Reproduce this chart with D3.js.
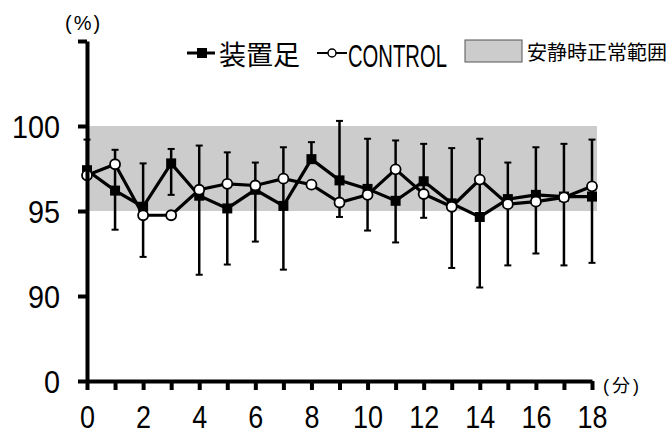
<!DOCTYPE html>
<html>
<head>
<meta charset="utf-8">
<script src="https://cdn.jsdelivr.net/npm/d3@7"></script>
<style>
  body { margin: 0; background: #fff; }
  svg { display: block; }
</style>
</head>
<body>
<script>
// minutes
var minutes = [0, 1, 2, 3, 4, 5, 6, 7, 8, 9, 10, 11, 12, 13, 14, 15, 16, 17, 18];

// 装置足 (filled squares)
var deviceFoot = [97.4, 96.2, 95.25, 97.8, 95.9, 95.15, 96.25, 95.3, 98.05, 96.8, 96.3, 95.6, 96.75, 95.45, 94.65, 95.7, 95.95, 95.85, 95.85];
// CONTROL (open circles)
var control = [97.1, 97.75, 94.75, 94.75, 96.25, 96.6, 96.5, 96.9, 96.55, 95.5, 95.95, 97.45, 96.0, 95.25, 96.85, 95.4, 95.55, 95.8, 96.45];

// error bar ends at each minute
var errTop = [99.2, 98.6, 97.8, 98.65, 98.85, 98.45, 97.85, 98.75, 99.05, 100.3, 99.25, 99.15, 98.95, 98.7, 99.25, 97.85, 98.75, 98.95, 99.2];
var errBottom = [97.2, 93.9, 92.3, 95.95, 91.25, 91.85, 93.2, 91.55, 97.9, 94.65, 93.85, 93.15, 94.6, 91.65, 90.5, 91.8, 92.5, 91.8, 91.95];

// normal resting range
var normalRange = [95, 100];

// y ticks (axis is broken: bottom tick stands for 0)
var yTicks = [85, 90, 95, 100, 105];
var yTickLabels = ["0", "90", "95", "100", ""];
var xTickLabels = ["0", "", "2", "", "4", "", "6", "", "8", "", "10", "", "12", "", "14", "", "16", "", "18"];

var width = 671, height = 437;
var numFont = "'Liberation Sans Narrow', 'Liberation Sans', Arial, sans-serif";
var unitFont = "'Liberation Sans', 'Noto Sans CJK JP', sans-serif";
var jpFont = "'Noto Sans CJK JP', sans-serif";

var svg = d3.select("body").append("svg")
  .attr("width", width)
  .attr("height", height);

var x = d3.scaleLinear().domain([0, 18]).range([87, 592]);
var y = d3.scaleLinear().domain([85, 105]).range([381, 41]);

// normal range band
svg.append("rect")
  .attr("x", x(0))
  .attr("y", y(normalRange[1]))
  .attr("width", x(18) - x(0) + 5)
  .attr("height", y(normalRange[0]) - y(normalRange[1]))
  .style("fill", "#cccccc");

// error bars
var bars = svg.append("g").selectAll("g")
  .data(minutes)
  .enter().append("g")
  .style("stroke", "#000");

bars.append("line")
  .attr("x1", function (d) { return x(d); })
  .attr("x2", function (d) { return x(d); })
  .attr("y1", function (d, i) { return y(errTop[i]); })
  .attr("y2", function (d, i) { return y(errBottom[i]); })
  .style("stroke-width", 2.5);

bars.append("line")
  .attr("x1", function (d) { return x(d) - 3.5; })
  .attr("x2", function (d) { return x(d) + 3.5; })
  .attr("y1", function (d, i) { return y(errTop[i]); })
  .attr("y2", function (d, i) { return y(errTop[i]); })
  .style("stroke-width", 2);

bars.append("line")
  .attr("x1", function (d) { return x(d) - 3.5; })
  .attr("x2", function (d) { return x(d) + 3.5; })
  .attr("y1", function (d, i) { return y(errBottom[i]); })
  .attr("y2", function (d, i) { return y(errBottom[i]); })
  .style("stroke-width", 2);

var line = d3.line()
  .x(function (d, i) { return x(minutes[i]); })
  .y(function (d) { return y(d); });

// 装置足 series
svg.append("path")
  .datum(deviceFoot)
  .attr("d", line)
  .style("fill", "none")
  .style("stroke", "#000")
  .style("stroke-width", 3.2);

svg.append("g").selectAll("rect")
  .data(deviceFoot)
  .enter().append("rect")
  .attr("x", function (d, i) { return x(minutes[i]) - 5; })
  .attr("y", function (d) { return y(d) - 5; })
  .attr("width", 10)
  .attr("height", 10)
  .style("fill", "#000");

// CONTROL series
svg.append("path")
  .datum(control)
  .attr("d", line)
  .style("fill", "none")
  .style("stroke", "#000")
  .style("stroke-width", 3.2);

svg.append("g").selectAll("circle")
  .data(control)
  .enter().append("circle")
  .attr("cx", function (d, i) { return x(minutes[i]); })
  .attr("cy", function (d) { return y(d); })
  .attr("r", 5)
  .style("fill", "#fff")
  .style("stroke", "#000")
  .style("stroke-width", 1.8);

// y axis
var yAxis = d3.axisLeft(y)
  .tickValues(yTicks)
  .tickSize(9)
  .tickSizeOuter(0)
  .tickPadding(18)
  .tickFormat(function (d, i) { return yTickLabels[i]; });

var gy = svg.append("g")
  .attr("transform", "translate(" + x(0) + ",0)")
  .call(yAxis);
gy.select(".domain").style("stroke-width", 4).style("stroke", "#000");
gy.selectAll(".tick line").style("stroke-width", 4).style("stroke", "#000");
gy.selectAll(".tick text")
  .style("font-family", numFont)
  .style("font-size", "32px")
  .attr("fill", "#000")
  .attr("dy", "0.36em")
  .each(function (d, i) {
    var n = yTickLabels[i].length;
    if (n) d3.select(this).attr("textLength", n * 16).attr("lengthAdjust", "spacingAndGlyphs");
  });

// x axis
var xAxis = d3.axisBottom(x)
  .tickValues(minutes)
  .tickSize(9)
  .tickSizeOuter(0)
  .tickPadding(16)
  .tickFormat(function (d, i) { return xTickLabels[i]; });

var gx = svg.append("g")
  .attr("transform", "translate(0," + y(85) + ")")
  .call(xAxis);
gx.select(".domain").style("stroke-width", 4).style("stroke", "#000");
gx.selectAll(".tick line").style("stroke-width", 4).style("stroke", "#000");
gx.selectAll(".tick text")
  .style("font-family", numFont)
  .style("font-size", "31px")
  .attr("fill", "#000")
  .attr("dy", "0.71em")
  .each(function (d, i) {
    var n = xTickLabels[i].length;
    if (n) d3.select(this).attr("textLength", n * 15).attr("lengthAdjust", "spacingAndGlyphs");
  });

// unit labels
svg.append("text")
  .attr("x", 65)
  .attr("y", 30)
  .style("font-family", unitFont)
  .style("font-size", "20px")
  .style("letter-spacing", "2px")
  .text("(%)");

svg.append("text")
  .attr("x", 603)
  .attr("y", 392)
  .style("font-family", unitFont)
  .style("font-size", "18px")
  .style("letter-spacing", "3px")
  .text("(分)");

// legend
var legend = svg.append("g").attr("class", "legend");

legend.append("line")
  .attr("x1", 187).attr("x2", 215).attr("y1", 53).attr("y2", 53)
  .style("stroke", "#000").style("stroke-width", 3);
legend.append("rect")
  .attr("x", 197).attr("y", 48).attr("width", 10).attr("height", 10)
  .style("fill", "#000");
legend.append("text")
  .attr("x", 219).attr("y", 65)
  .style("font-family", jpFont)
  .style("font-size", "27px")
  .text("装置足");

legend.append("line")
  .attr("x1", 317).attr("x2", 347).attr("y1", 53).attr("y2", 53)
  .style("stroke", "#000").style("stroke-width", 2);
legend.append("circle")
  .attr("cx", 332).attr("cy", 53).attr("r", 4)
  .style("fill", "#fff").style("stroke", "#000").style("stroke-width", 1.5);
legend.append("text")
  .attr("x", 348).attr("y", 67)
  .style("font-family", numFont)
  .style("font-size", "31px")
  .attr("textLength", 99)
  .attr("lengthAdjust", "spacingAndGlyphs")
  .text("CONTROL");

legend.append("rect")
  .attr("x", 465).attr("y", 40).attr("width", 57).attr("height", 22)
  .style("fill", "#cccccc").style("stroke", "#555").style("stroke-width", 1);
legend.append("text")
  .attr("x", 527).attr("y", 60)
  .style("font-family", jpFont)
  .style("font-size", "20px")
  .text("安静時正常範囲");
</script>
</body>
</html>
